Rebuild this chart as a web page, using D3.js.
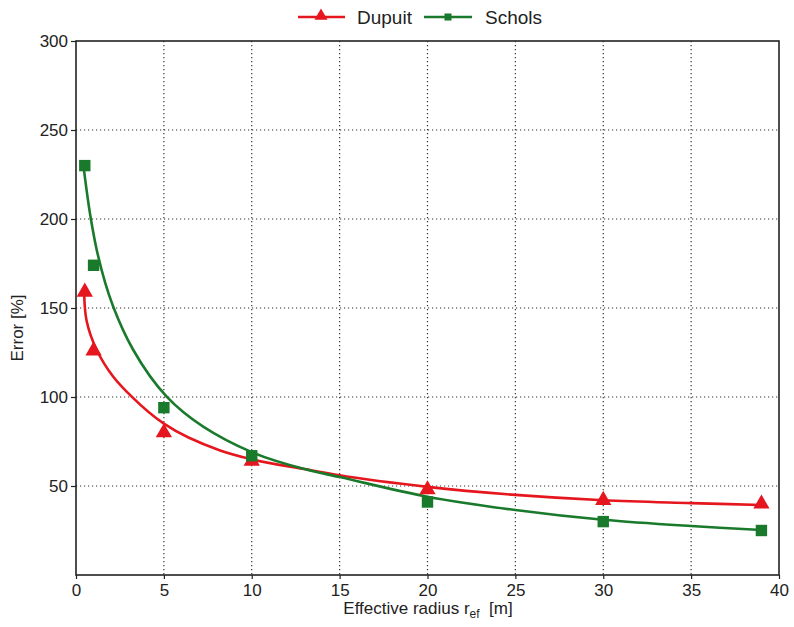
<!DOCTYPE html>
<html><head><meta charset="utf-8">
<script src="https://cdn.jsdelivr.net/npm/d3@7"></script>
<style>body{margin:0;background:#fff}svg{display:block}text{font-family:"Liberation Sans",Arial,sans-serif}</style>
</head><body>
<svg id="c" width="794" height="627"></svg>
<script>
const radii = [0.5, 1, 5, 10, 20, 30, 39];
const dupuit = [159, 126, 80, 64, 48, 42, 40];
const schols = [230, 174, 94, 67, 41, 30, 25];
const dupuitFitX = [0.46, 0.6, 1.18, 2.12, 3.17, 5, 8.2, 10, 13, 15, 20, 25, 30, 35, 39];
const dupuitFitY = [160, 143, 126.4, 111.4, 100.2, 85, 70, 65, 59.5, 56, 49.5, 45, 42, 40.4, 39.3];
const scholsFitX = [0.46, 0.84, 1.18, 2.12, 3.26, 5.16, 10, 13, 15, 20, 25, 30, 35, 39];
const scholsFitY = [227, 200.4, 182.6, 150.7, 126.4, 100.2, 69, 59.5, 55, 44, 36.5, 31, 27.5, 25.3];
const xTicks = [0, 5, 10, 15, 20, 25, 30, 35, 40];
const yTicks = [50, 100, 150, 200, 250, 300];

const RED = "#e5161e", GREEN = "#1a7a2c";
const svg = d3.select("#c");
const L = 76, R = 779, T = 41, B = 575;
const x = d3.scaleLinear().domain([0, 40]).range([L, R]);
const y = d3.scaleLinear().domain([0, 300]).range([B, T]);

// grid
const g = svg.append("g");
g.selectAll(".gx").data(xTicks.filter(d => d > 0 && d < 40)).join("line")
  .attr("x1", d => x(d)).attr("x2", d => x(d)).attr("y1", T).attr("y2", B)
  .attr("stroke", "#333").attr("stroke-width", 1.2).attr("stroke-dasharray", "1.2,2.8");
g.selectAll(".gy").data(yTicks.filter(d => d < 300)).join("line")
  .attr("y1", d => y(d)).attr("y2", d => y(d)).attr("x1", L).attr("x2", R)
  .attr("stroke", "#333").attr("stroke-width", 1.2).attr("stroke-dasharray", "1.2,2.8");

// axes
const xa = svg.append("g").attr("transform", `translate(0,${B})`)
  .call(d3.axisBottom(x).tickValues(xTicks).tickSize(4).tickSizeOuter(0));
const ya = svg.append("g").attr("transform", `translate(${L},0)`)
  .call(d3.axisLeft(y).tickValues(yTicks).tickSize(5).tickSizeOuter(0));
[xa, ya].forEach(a => {
  a.select(".domain").remove();
  a.selectAll("line").attr("stroke", "#222").attr("stroke-width", 1.2);
  a.selectAll("text").attr("font-size", 17).attr("fill", "#222");
});
xa.selectAll("text").attr("dy", "0.8em");
ya.selectAll("text").attr("x", -8);
// frame
svg.append("rect").attr("x", L).attr("y", T).attr("width", R - L).attr("height", B - T)
  .attr("fill", "none").attr("stroke", "#222").attr("stroke-width", 1.6);

// fitted curves
const lineGen = d3.line().x(d => x(d[0])).y(d => y(d[1])).curve(d3.curveCatmullRom.alpha(1));
svg.append("path").datum(dupuitFitX.map((v, i) => [v, dupuitFitY[i]]))
  .attr("d", lineGen).attr("fill", "none").attr("stroke", RED).attr("stroke-width", 2.6);
svg.append("path").datum(scholsFitX.map((v, i) => [v, scholsFitY[i]]))
  .attr("d", lineGen).attr("fill", "none").attr("stroke", GREEN).attr("stroke-width", 2.6);

// markers
const tri = d3.symbol().type(d3.symbolTriangle).size(115);
const sq = d3.symbol().type(d3.symbolSquare).size(130);
svg.selectAll(".dp").data(radii.map((v, i) => [v, dupuit[i]])).join("path")
  .attr("transform", d => `translate(${x(d[0])},${y(d[1])})`).attr("d", tri).attr("fill", RED);
svg.selectAll(".sc").data(radii.map((v, i) => [v, schols[i]])).join("path")
  .attr("transform", d => `translate(${x(d[0])},${y(d[1])})`).attr("d", sq).attr("fill", GREEN);

// legend
const lg = svg.append("g");
lg.append("line").attr("x1", 298).attr("x2", 345).attr("y1", 17).attr("y2", 17).attr("stroke", RED).attr("stroke-width", 2.4);
lg.append("path").attr("transform", "translate(321,16)").attr("d", d3.symbol().type(d3.symbolTriangle).size(75)).attr("fill", RED);
lg.append("text").attr("x", 357).attr("y", 24).attr("font-size", 19).attr("fill", "#222").text("Dupuit");
lg.append("line").attr("x1", 424).attr("x2", 472).attr("y1", 17).attr("y2", 17).attr("stroke", GREEN).attr("stroke-width", 2.4);
lg.append("path").attr("transform", "translate(448,17)").attr("d", d3.symbol().type(d3.symbolSquare).size(50)).attr("fill", GREEN);
lg.append("text").attr("x", 485).attr("y", 24).attr("font-size", 19).attr("fill", "#222").text("Schols");

// axis titles
const xt = svg.append("text").attr("x", 428).attr("y", 614).attr("text-anchor", "middle")
  .attr("font-size", 17).attr("fill", "#222");
xt.append("tspan").text("Effective radius r");
xt.append("tspan").attr("font-size", 12).attr("dy", 4).text("ef");
xt.append("tspan").attr("dy", -4).text("\u00a0\u00a0[m]");
svg.append("text").attr("transform", "translate(23,328) rotate(-90)").attr("text-anchor", "middle")
  .attr("font-size", 17).attr("fill", "#222").text("Error [%]");
</script>
</body></html>
